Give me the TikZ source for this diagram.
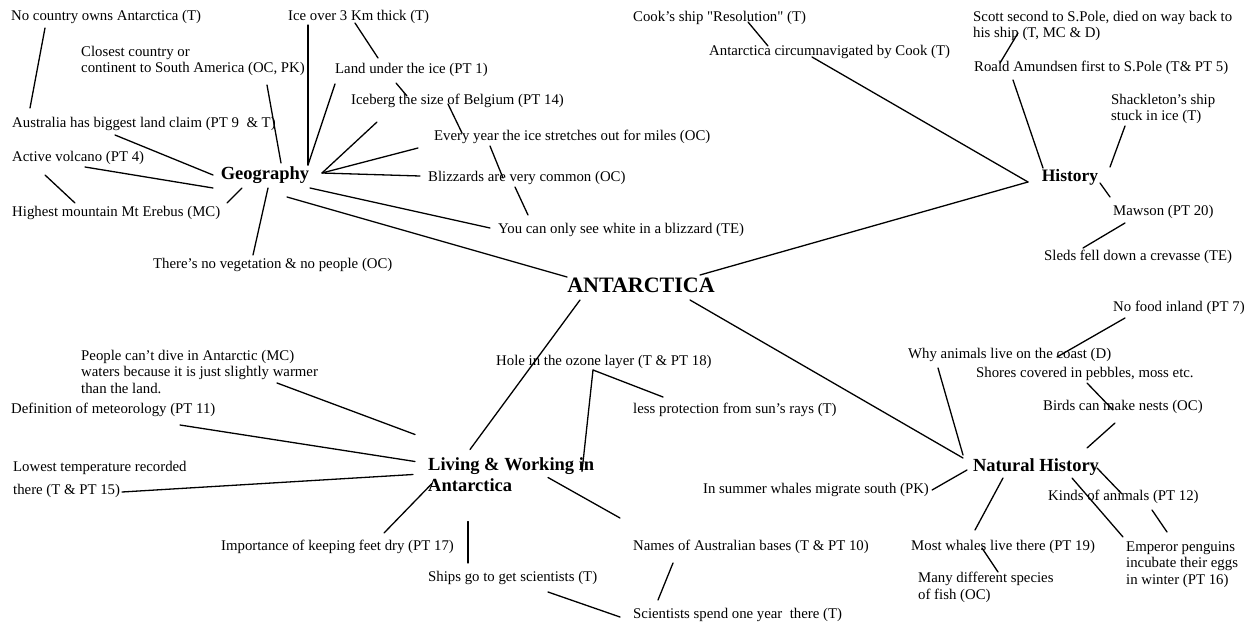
\documentclass[tikz,border=0pt]{standalone}
\usepackage{fontspec}
\setmainfont{Liberation Serif}
\newfontfamily\rawfont{Liberation Serif}[Ligatures=TeXOff]
\newcommand{\dq}{{\rawfont"}}
\begin{document}
\begin{tikzpicture}[x=1pt,y=-1pt,
  item/.style={anchor=west,inner sep=1pt,font=\fontsize{14.8}{16.5}\selectfont,text height=10.5pt,text depth=3.2pt},
  block/.style={anchor=north west,inner sep=1pt,align=left,font=\fontsize{14.8}{16.5}\selectfont},
  topic/.style={inner sep=1pt,font=\fontsize{18.5}{21}\selectfont\bfseries},
  link/.style={line width=1.3pt,line cap=round}]
\useasboundingbox[fill=white] (0,0) rectangle (1252,623);

% centre
\node[inner sep=1pt,font=\fontsize{22}{24}\selectfont\bfseries] (antarctica) at (641,285) {ANTARCTICA};

% Geography
\node[topic] (geo) at (265,175) {Geography};
\node[item] (nocountry) at (10,17) {No country owns Antarctica (T)};
\node[item] (iceover) at (287,17) {Ice over 3 Km thick (T)};
\node[block] (closest) at (80,45) {Closest country or\\continent to South America (OC, PK)};
\node[item] (landunder) at (334,70) {Land under the ice (PT 1)};
\node[item] (iceberg) at (350,101) {Iceberg the size of Belgium (PT 14)};
\node[item] (australia) at (11,124) {Australia has biggest land claim (PT 9\ \ \& T)};
\node[item] (everyyear) at (433,137) {Every year the ice stretches out for miles (OC)};
\node[item] (volcano) at (11,158) {Active volcano (PT 4)};
\node[item] (blizzards) at (427,178) {Blizzards are very common (OC)};
\node[item] (highest) at (11,213) {Highest mountain Mt Erebus (MC)};
\node[item] (white) at (497,230) {You can only see white in a blizzard (TE)};
\node[item] (vegetation) at (152,265) {There's no vegetation \& no people (OC)};

% History
\node[topic,font=\fontsize{17.5}{20}\selectfont\bfseries] (history) at (1070,177) {History};
\node[item] (cookship) at (632,18) {Cook's ship \dq Resolution\dq{} (T)};
\node[item] (circum) at (708,52) {Antarctica circumnavigated by Cook (T)};
\node[block] (scott) at (972,10) {Scott second to S.Pole, died on way back to\\his ship (T, MC \& D)};
\node[item] (amundsen) at (973,68) {Roald Amundsen first to S.Pole (T\& PT 5)};
\node[block] (shackleton) at (1110,93) {Shackleton's ship\\stuck in ice (T)};
\node[item] (mawson) at (1112,212) {Mawson (PT 20)};
\node[item] (sleds) at (1043,257) {Sleds fell down a crevasse (TE)};

% Living & Working in Antarctica
\node[topic,anchor=north west,align=left] (living) at (427,456.5) {Living \& Working in\\Antarctica};
\node[item] (hole) at (495,362) {Hole in the ozone layer (T \& PT 18)};
\node[item] (lessprot) at (632,410) {less protection from sun's rays (T)};
\node[block] (people) at (80,349) {People can't dive in Antarctic (MC)\\waters because it is just slightly warmer\\than the land.};
\node[item] (definition) at (10,410) {Definition of meteorology (PT 11)};
\node[block,font=\fontsize{14.8}{23}\selectfont] (lowest) at (12,460) {Lowest temperature recorded\\there (T \& PT 15)};
\node[item] (importance) at (220,547) {Importance of keeping feet dry (PT 17)};
\node[item] (names) at (632,547) {Names of Australian bases (T \& PT 10)};
\node[item] (ships) at (427,578) {Ships go to get scientists (T)};
\node[item] (scientists) at (632,615) {Scientists spend one year~ there (T)};

% Natural History
\node[topic] (natural) at (1036,467) {Natural History};
\node[item] (nofood) at (1112,308) {No food inland (PT 7)};
\node[item] (why) at (907,355) {Why animals live on the coast (D)};
\node[item] (shores) at (975,374) {Shores covered in pebbles, moss etc.};
\node[item] (birds) at (1042,407) {Birds can make nests (OC)};
\node[item] (summer) at (702,490) {In summer whales migrate south (PK)};
\node[item] (kinds) at (1047,497) {Kinds of animals (PT 12)};
\node[item] (mostwhales) at (910,547) {Most whales live there (PT 19)};
\node[block] (species) at (917,571) {Many different species\\of fish (OC)};
\node[block] (emperor) at (1125,540) {Emperor penguins\\incubate their eggs\\in winter (PT 16)};

% Geography links
\draw[link] ([shift={(35,11)}]nocountry.west) -- ([shift={(19,-16)}]australia.west);
\draw[link] ([shift={(104,11)}]australia.west) -- ([shift={(-52,0)}]geo.center);
\draw[link] ([shift={(74,9)}]volcano.west) -- ([shift={(-52,13)}]geo.center);
\draw[link] ([shift={(64,-10)}]highest.west) -- ([shift={(34,17)}]volcano.west);
\draw[link] ([shift={(-23,13)}]geo.center) -- ([shift={(216,-10)}]highest.west);
\draw[link] ([shift={(3,13)}]geo.center) -- ([shift={(101,-10)}]vegetation.west);
\draw[link] ([shift={(16,-12)}]geo.center) -- ([shift={(187,40)}]closest.north west);
\draw[link] ([shift={(43,-10)}]geo.center) -- ([shift={(21,8)}]iceover.west);
\draw[link] ([shift={(43,-10)}]geo.center) -- ([shift={(1,14)}]landunder.west);
\draw[link] ([shift={(68,6)}]iceover.west) -- ([shift={(44,-12)}]landunder.west);
\draw[link] ([shift={(62,13)}]landunder.west) -- ([shift={(57,-5)}]iceberg.west);
\draw[link] ([shift={(57,-2)}]geo.center) -- ([shift={(27,21)}]iceberg.west);
\draw[link] ([shift={(57,-2)}]geo.center) -- ([shift={(-15,11)}]everyyear.west);
\draw[link] ([shift={(98,3)}]iceberg.west) -- ([shift={(29,-4)}]everyyear.west);
\draw[link] ([shift={(57,-2)}]geo.center) -- ([shift={(-7,-2)}]blizzards.west);
\draw[link] ([shift={(57,9)}]everyyear.west) -- ([shift={(76,0)}]blizzards.west);
\draw[link] ([shift={(88,9)}]blizzards.west) -- ([shift={(31,-15)}]white.west);
\draw[link] ([shift={(45,13)}]geo.center) -- ([shift={(-7,-2)}]white.west);
\draw[link] ([shift={(22,22)}]geo.center) -- ([shift={(-74,-8)}]antarctica.center);

% History links
\draw[link] ([shift={(116,4)}]cookship.west) -- ([shift={(60,-6)}]circum.west);
\draw[link] ([shift={(104,5)}]circum.west) -- ([shift={(-42,5)}]history.center);
\draw[link] ([shift={(46,23)}]scott.north west) -- ([shift={(27,-5)}]amundsen.west);
\draw[link] ([shift={(40,12)}]amundsen.west) -- ([shift={(-27,-9)}]history.center);
\draw[link] ([shift={(15,33)}]shackleton.north west) -- ([shift={(40,-10)}]history.center);
\draw[link] ([shift={(30,6)}]history.center) -- ([shift={(-2,-15)}]mawson.west);
\draw[link] ([shift={(13,11)}]mawson.west) -- ([shift={(40,-9)}]sleds.west);
\draw[link] ([shift={(-42,5)}]history.center) -- ([shift={(59,-10)}]antarctica.center);

% Living & Working links
\draw[link] ([shift={(-61,15)}]antarctica.center) -- ([shift={(43,-7)}]living.north west);
\draw[link] ([shift={(98,8)}]hole.west) -- ([shift={(155,15)}]living.north west);
\draw[link] ([shift={(98,8)}]hole.west) -- ([shift={(31,-13)}]lessprot.west);
\draw[link] ([shift={(197,34)}]people.north west) -- ([shift={(-12,-22)}]living.north west);
\draw[link] ([shift={(170,15)}]definition.west) -- ([shift={(-12,5)}]living.north west);
\draw[link] ([shift={(110,32)}]lowest.north west) -- ([shift={(-14,18)}]living.north west);
\draw[link] ([shift={(5,27)}]living.north west) -- ([shift={(164,-14)}]importance.west);
\draw[link] ([shift={(41,65)}]living.north west) -- ([shift={(41,-15)}]ships.west);
\draw[link] ([shift={(121,21)}]living.north west) -- ([shift={(-12,-29)}]names.west);
\draw[link] ([shift={(121,14)}]ships.west) -- ([shift={(-12,2)}]scientists.west);
\draw[link] ([shift={(41,16)}]names.west) -- ([shift={(26,-15)}]scientists.west);

% Natural History links
\draw[link] ([shift={(49,15)}]antarctica.center) -- ([shift={(-73,-9)}]natural.center);
\draw[link] ([shift={(13,10)}]nofood.west) -- ([shift={(150,2)}]why.west);
\draw[link] ([shift={(31,13)}]why.west) -- ([shift={(-73,-12)}]natural.center);
\draw[link] ([shift={(112,9)}]shores.west) -- ([shift={(71,3)}]birds.west);
\draw[link] ([shift={(73,16)}]birds.west) -- ([shift={(51,-19)}]natural.center);
\draw[link] ([shift={(2,0)}]summer.east) -- ([shift={(-69,3)}]natural.center);
\draw[link] ([shift={(-33,11)}]natural.center) -- ([shift={(65,-17)}]mostwhales.west);
\draw[link] ([shift={(72,1)}]mostwhales.west) -- ([shift={(81,1)}]species.north west);
\draw[link] ([shift={(61,1)}]natural.center) -- ([shift={(75,-3)}]kinds.west);
\draw[link] ([shift={(36,11)}]natural.center) -- ([shift={(-2,-3)}]emperor.north west);
\draw[link] ([shift={(105,13)}]kinds.west) -- ([shift={(42,-8)}]emperor.north west);
\end{tikzpicture}
\end{document}
